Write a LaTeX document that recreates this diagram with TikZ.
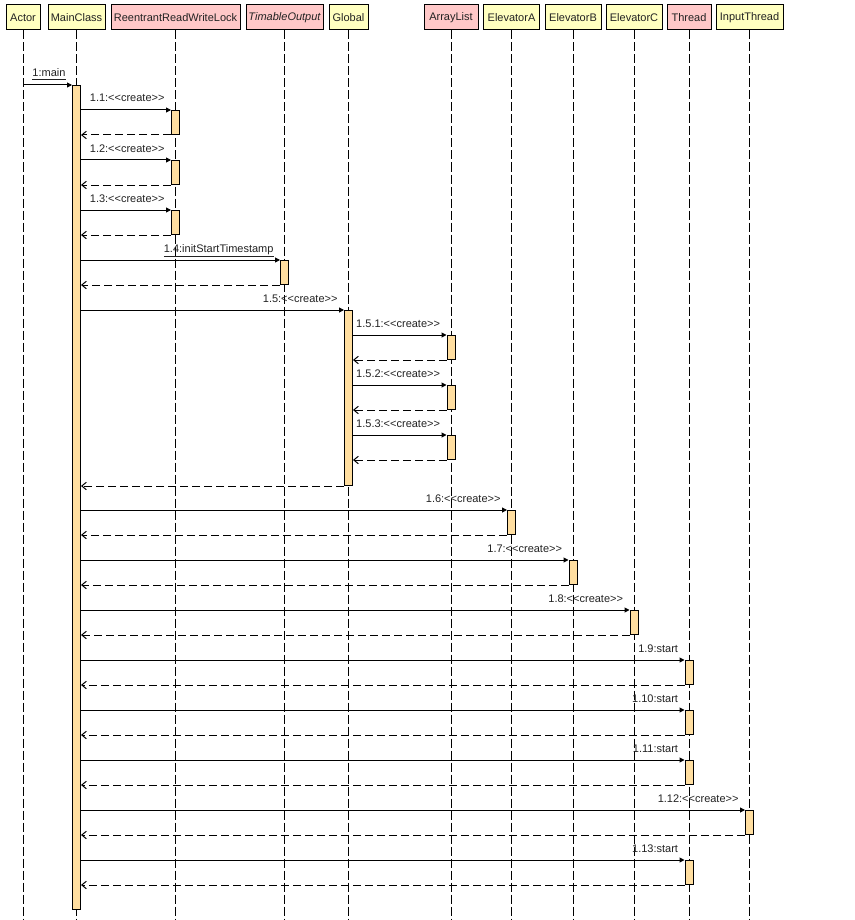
\documentclass[tikz,border=0pt]{standalone}
\usepackage{fontspec}
\setmainfont{Liberation Sans}[Ligatures=TeXOff]
\usetikzlibrary{arrows.meta}
\definecolor{yel}{RGB}{255,255,192}
\definecolor{pnk}{RGB}{255,200,200}
\definecolor{actc}{RGB}{255,222,160}
\definecolor{txt}{RGB}{34,34,34}
\newcommand\seqmsg[6]{% #1 source, #2 name, #3 x, #4 y, #5 height, #6 label
  \node[act, minimum height=#5*0.75pt] (#2) at (#3,#4) {};
  \draw[call] (#1.east |- #2.north) -- (#2.north west);
  \node[lbl] (#2l) at ([xshift=-4.5pt,yshift=6pt]#2.north west) {#6};
  \draw[ret] (#2.south west) -- (#1.east |- #2.south);
}
\begin{document}
\begin{tikzpicture}[x=0.75pt,y=-0.75pt,
  font=\fontsize{8.25}{10}\selectfont, text=txt, line width=0.75pt,
  hdr/.style={draw, minimum height=18.75pt, inner sep=0pt},
  life/.style={draw, dash pattern=on 6.75pt off 2.25pt},
  act/.style={draw, fill=actc, minimum width=6pt, inner sep=0pt, anchor=north},
  call/.style={-{Triangle[length=3.75pt,width=3.75pt]}},
  ret/.style={dash pattern=on 6pt off 3pt, -{Straight Barb[length=3.4pt,width=5.6pt]}},
  lbl/.style={anchor=base east, inner sep=0pt}]
\useasboundingbox (0,0) rectangle (855,920);
\coordinate (bot) at (0,920);
% headers
\node[hdr, fill=yel, minimum width=25.5pt] (hA) at (23,17.5) {Actor};
\node[hdr, fill=yel, minimum width=42.75pt] (hM) at (76.5,17.5) {MainClass};
\node[hdr, fill=pnk, minimum width=96.75pt] (hR) at (175.5,17.5) {ReentrantReadWriteLock};
\node[hdr, fill=pnk, minimum width=57.75pt] (hT) at (284.5,17.5) {\itshape TimableOutput};
\node[hdr, fill=yel, minimum width=29.25pt] (hG) at (348.5,17.5) {Global};
\node[hdr, fill=pnk, minimum width=40.5pt] (hL) at (451,17.5) {ArrayList};
\node[hdr, fill=yel, minimum width=42pt] (hEA) at (511.5,17.5) {ElevatorA};
\node[hdr, fill=yel, minimum width=42pt] (hEB) at (573,17.5) {ElevatorB};
\node[hdr, fill=yel, minimum width=42pt] (hEC) at (634,17.5) {ElevatorC};
\node[hdr, fill=pnk, minimum width=33pt] (hTh) at (689,17.5) {Thread};
\node[hdr, fill=yel, minimum width=50.25pt] (hI) at (749.5,17.5) {InputThread};
% lifelines
\foreach \n in {hA,hM,hR,hT,hG,hL,hEA,hEB,hEC,hTh,hI}
  \draw[life] (\n.south) -- (\n.south |- bot);
% main activation
\node[act, minimum height=618pt] (m) at (76.5,85) {};
\draw[call] (hA.south |- m.north) -- (m.north west);
\node[lbl] (ml) at ([xshift=-4.5pt,yshift=6pt]m.north west) {\underline{1:main}};
% messages
\seqmsg{m}{a11}{175.5}{110}{24}{1.1:<<create>>}
\seqmsg{m}{a12}{175.5}{160}{24}{1.2:<<create>>}
\seqmsg{m}{a13}{175.5}{210}{24}{1.3:<<create>>}
\seqmsg{m}{a14}{284.5}{260}{24}{\underline{1.4:initStartTimestamp}}
\seqmsg{m}{a15}{348.5}{310}{175}{1.5:<<create>>}
\seqmsg{a15}{a151}{451}{335}{24}{1.5.1:<<create>>}
\seqmsg{a15}{a152}{451}{385}{24}{1.5.2:<<create>>}
\seqmsg{a15}{a153}{451}{435}{24}{1.5.3:<<create>>}
\seqmsg{m}{a16}{511.5}{510}{24}{1.6:<<create>>}
\seqmsg{m}{a17}{573}{560}{24}{1.7:<<create>>}
\seqmsg{m}{a18}{634}{610}{24}{1.8:<<create>>}
\seqmsg{m}{a19}{689}{660}{24}{1.9:start}
\seqmsg{m}{a110}{689}{710}{24}{1.10:start}
\seqmsg{m}{a111}{689}{760}{24}{1.11:start}
\seqmsg{m}{a112}{749.5}{810}{24}{1.12:<<create>>}
\seqmsg{m}{a113}{689}{860}{24}{1.13:start}
\end{tikzpicture}
\end{document}
